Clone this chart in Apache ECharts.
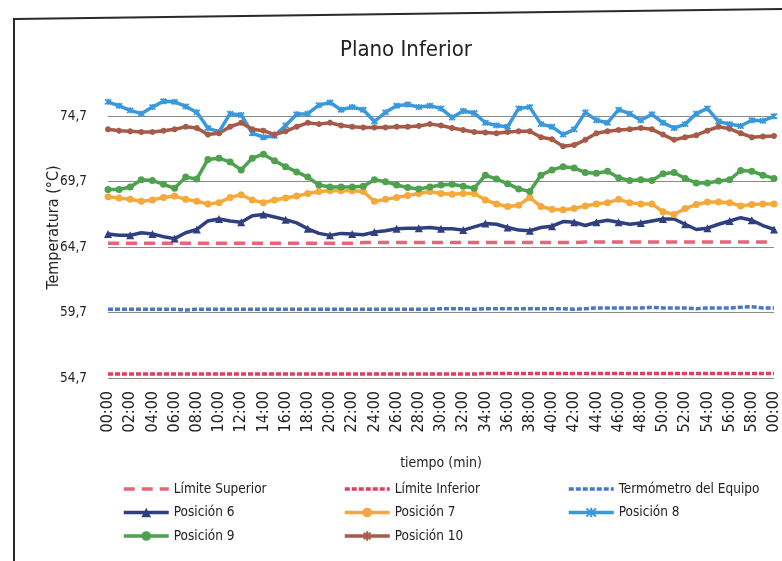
<!DOCTYPE html>
<html>
<head>
<meta charset="utf-8">
<script src="https://cdn.jsdelivr.net/npm/echarts@6/dist/echarts.min.js"></script>
<style>
  html, body { margin: 0; padding: 0; background: #fff; }
  #chart { width: 782px; height: 561px; }
</style>
</head>
<body>
<div id="chart"></div>
<script>
// Minute marks of the one-hour run (mm:ss)
const timeLabels = [
  '00:00','01:00','02:00','03:00','04:00','05:00','06:00','07:00','08:00','09:00',
  '10:00','11:00','12:00','13:00','14:00','15:00','16:00','17:00','18:00','19:00',
  '20:00','21:00','22:00','23:00','24:00','25:00','26:00','27:00','28:00','29:00',
  '30:00','31:00','32:00','33:00','34:00','35:00','36:00','37:00','38:00','39:00',
  '40:00','41:00','42:00','43:00','44:00','45:00','46:00','47:00','48:00','49:00',
  '50:00','51:00','52:00','53:00','54:00','55:00','56:00','57:00','58:00','59:00',
  '00:00'
];

// Temperature axis ticks (°C)
const yTicks = [54.7, 59.7, 64.7, 69.7, 74.7];

// Readings, one per minute (°C)
const limiteSuperior = [
  65.0,65.0,65.0,65.0,65.0,65.0,65.0,65.0,65.0,65.0,
  65.0,65.0,65.0,65.0,65.0,65.0,65.0,65.0,65.0,65.0,
  65.0,65.0,65.0,65.05,65.05,65.05,65.05,65.05,65.05,65.05,
  65.05,65.05,65.05,65.05,65.05,65.05,65.05,65.05,65.05,65.05,
  65.05,65.05,65.05,65.1,65.1,65.1,65.1,65.1,65.1,65.1,
  65.1,65.1,65.1,65.1,65.1,65.1,65.1,65.1,65.1,65.1,
  65.1
];
const limiteInferior = [
  55.0,55.0,55.0,55.0,55.0,55.0,55.0,55.0,55.0,55.0,
  55.0,55.0,55.0,55.0,55.0,55.0,55.0,55.0,55.0,55.0,
  55.0,55.0,55.0,55.0,55.0,55.0,55.0,55.0,55.0,55.0,
  55.0,55.0,55.0,55.0,55.05,55.05,55.05,55.05,55.05,55.05,
  55.05,55.05,55.05,55.05,55.05,55.05,55.05,55.05,55.05,55.05,
  55.05,55.05,55.05,55.05,55.05,55.05,55.05,55.05,55.05,55.05,
  55.05
];
const termometro = [
  59.95,59.95,59.95,59.95,59.95,59.95,59.95,59.9,59.95,59.95,
  59.95,59.95,59.95,59.95,59.95,59.95,59.95,59.95,59.95,59.95,
  59.95,59.95,59.95,59.95,59.95,59.95,59.95,59.95,59.95,59.95,
  60.0,60.0,60.0,59.95,60.0,60.0,60.0,60.0,60.0,60.0,
  60.0,60.0,59.95,60.0,60.05,60.05,60.05,60.05,60.05,60.1,
  60.05,60.05,60.05,60.0,60.05,60.05,60.05,60.1,60.15,60.05,
  60.05
];
const posicion6 = [
  65.7,65.6,65.6,65.8,65.7,65.5,65.35,65.8,66.05,66.7,
  66.85,66.7,66.6,67.1,67.2,67.0,66.8,66.55,66.1,65.75,
  65.6,65.75,65.7,65.65,65.85,65.95,66.1,66.15,66.15,66.2,
  66.1,66.1,66.0,66.25,66.5,66.45,66.2,66.0,65.95,66.2,
  66.3,66.65,66.6,66.35,66.6,66.75,66.6,66.45,66.55,66.7,
  66.85,66.85,66.45,66.05,66.15,66.45,66.7,66.95,66.75,66.35,
  66.05
];
const posicion7 = [
  68.55,68.45,68.35,68.2,68.3,68.5,68.6,68.35,68.2,68.0,
  68.1,68.5,68.7,68.3,68.1,68.3,68.45,68.6,68.8,68.95,
  69.0,69.0,69.0,68.95,68.2,68.35,68.5,68.65,68.8,68.95,
  68.8,68.75,68.8,68.8,68.3,68.0,67.8,67.9,68.5,67.8,
  67.6,67.55,67.65,67.85,68.0,68.1,68.35,68.1,68.0,68.0,
  67.4,67.2,67.65,67.95,68.15,68.15,68.1,67.85,67.95,68.0,
  68.0
];
const posicion8 = [
  75.8,75.5,75.15,74.9,75.4,75.85,75.8,75.45,75.0,73.8,
  73.5,74.9,74.8,73.4,73.1,73.2,74.0,74.85,74.9,75.55,
  75.75,75.2,75.4,75.2,74.3,75.0,75.5,75.6,75.4,75.5,
  75.3,74.6,75.1,74.95,74.2,74.0,73.9,75.3,75.4,74.1,
  73.9,73.3,73.7,75.0,74.4,74.2,75.2,74.9,74.4,74.85,
  74.2,73.8,74.1,74.9,75.3,74.3,74.1,73.95,74.4,74.35,
  74.7
];
const posicion9 = [
  69.1,69.1,69.3,69.85,69.8,69.5,69.2,70.05,69.9,71.4,
  71.5,71.2,70.6,71.5,71.8,71.3,70.85,70.45,70.05,69.45,
  69.3,69.3,69.3,69.35,69.85,69.7,69.45,69.25,69.15,69.3,
  69.45,69.5,69.35,69.2,70.2,69.9,69.55,69.15,68.95,70.2,
  70.6,70.85,70.75,70.4,70.35,70.5,70.0,69.8,69.85,69.8,
  70.3,70.4,69.95,69.6,69.6,69.75,69.85,70.55,70.5,70.2,
  69.95
];
const posicion10 = [
  73.7,73.6,73.55,73.5,73.5,73.6,73.7,73.9,73.8,73.3,
  73.4,73.9,74.2,73.7,73.6,73.3,73.55,73.9,74.2,74.1,
  74.2,74.0,73.9,73.85,73.85,73.85,73.9,73.9,73.95,74.1,
  74.0,73.8,73.65,73.5,73.45,73.4,73.5,73.55,73.55,73.1,
  72.95,72.4,72.5,72.9,73.4,73.55,73.65,73.7,73.8,73.7,
  73.3,72.9,73.1,73.25,73.6,73.9,73.75,73.4,73.1,73.15,
  73.2
];

const FONT = '"Liberation Sans Narrow", "DejaVu Sans Condensed", "Open Sans", sans-serif';
const TEXT = '#222';

// Stroked marker shapes
const ASTERISK = 'path://M0,0L10,10M10,0L0,10M5,-1L5,11';
const PLUS = 'path://M5,0L5,10M0,5L10,5M1.5,1.5L8.5,8.5M8.5,1.5L1.5,8.5';

function dashed(name, data, color, dash) {
  return {
    name, type: 'line', data, symbol: 'none', silent: true,
    lineStyle: { color, width: 3.5, type: dash },
    itemStyle: { color }
  };
}
function marked(name, data, color, symbol, size, stroked) {
  return {
    name, type: 'line', data, symbol, symbolSize: size, showSymbol: true,
    silent: true,
    lineStyle: { color, width: 3.5 },
    itemStyle: stroked
      ? { color, borderColor: color, borderWidth: 1.8 }
      : { color, borderColor: color, borderWidth: 0 }
  };
}
// Legend entry for a dashed series: line only, no marker
function lineOnly(name) {
  return { name, itemStyle: { opacity: 0 } };
}

const legendCommon = {
  orient: 'vertical', top: 482, padding: 0, itemWidth: 45, itemHeight: 12, itemGap: 9.5,
  textStyle: { fontFamily: FONT, fontSize: 13.5, color: TEXT },
  lineStyle: { width: 3.5 },
  selectedMode: false
};

const chart = echarts.init(document.getElementById('chart'), null, { renderer: 'canvas' });
chart.setOption({
  backgroundColor: '#fff',
  animation: false,
  title: {
    text: 'Plano Inferior', left: 335, top: 34,
    textStyle: { fontFamily: FONT, fontSize: 22, fontWeight: 'normal', color: TEXT }
  },
  grid: { left: 108, right: 6, top: 77, bottom: 183 },
  xAxis: {
    type: 'category', data: timeLabels, boundaryGap: false,
    name: 'tiempo (min)', nameLocation: 'middle', nameGap: 78,
    nameTextStyle: { fontFamily: FONT, fontSize: 14, color: TEXT },
    axisLine: { show: false }, axisTick: { show: false },
    axisLabel: { interval: 1, rotate: 90, margin: 13, fontFamily: FONT, fontSize: 16, color: TEXT }
  },
  yAxis: {
    type: 'value', min: 54.7, max: 77.7,
    name: 'Temperatura (°C)', nameLocation: 'middle', nameGap: 46,
    nameMoveOverlap: false,
    nameTextStyle: { fontFamily: FONT, fontSize: 16, color: TEXT },
    axisLine: { show: false },
    axisTick: { show: false, customValues: yTicks },
    axisLabel: {
      customValues: yTicks, margin: 21, fontFamily: FONT, fontSize: 13.5, color: TEXT,
      formatter: v => v.toFixed(1).replace('.', ',')
    },
    splitLine: { show: true, lineStyle: { color: '#8a8a8a', width: 1 } }
  },
  legend: [
    Object.assign({ left: 122, data: [lineOnly('Límite Superior'), 'Posición 6', 'Posición 9'] }, legendCommon),
    Object.assign({ left: 343, data: [lineOnly('Límite Inferior'), 'Posición 7', 'Posición 10'] }, legendCommon),
    Object.assign({ left: 567, data: [lineOnly('Termómetro del Equipo'), 'Posición 8'] }, legendCommon)
  ],
  graphic: [
    { type: 'polyline', silent: true,
      shape: { points: [[14, 561], [14, 19], [782, 9]] },
      style: { stroke: '#2a2a2a', lineWidth: 2, fill: null } }
  ],
  series: [
    dashed('Límite Superior', limiteSuperior, '#e8647a', [11, 7]),
    dashed('Límite Inferior', limiteInferior, '#e0405c', [5, 2]),
    dashed('Termómetro del Equipo', termometro, '#4a78c4', [5, 2]),
    marked('Posición 6', posicion6, '#2f3f80', 'triangle', 8, false),
    marked('Posición 7', posicion7, '#f5a93a', 'circle', 7, false),
    marked('Posición 8', posicion8, '#3a98dc', ASTERISK, 6, true),
    marked('Posición 9', posicion9, '#4ea24e', 'circle', 7, false),
    marked('Posición 10', posicion10, '#a65a48', PLUS, 6, true)
  ]
});
</script>
</body>
</html>
